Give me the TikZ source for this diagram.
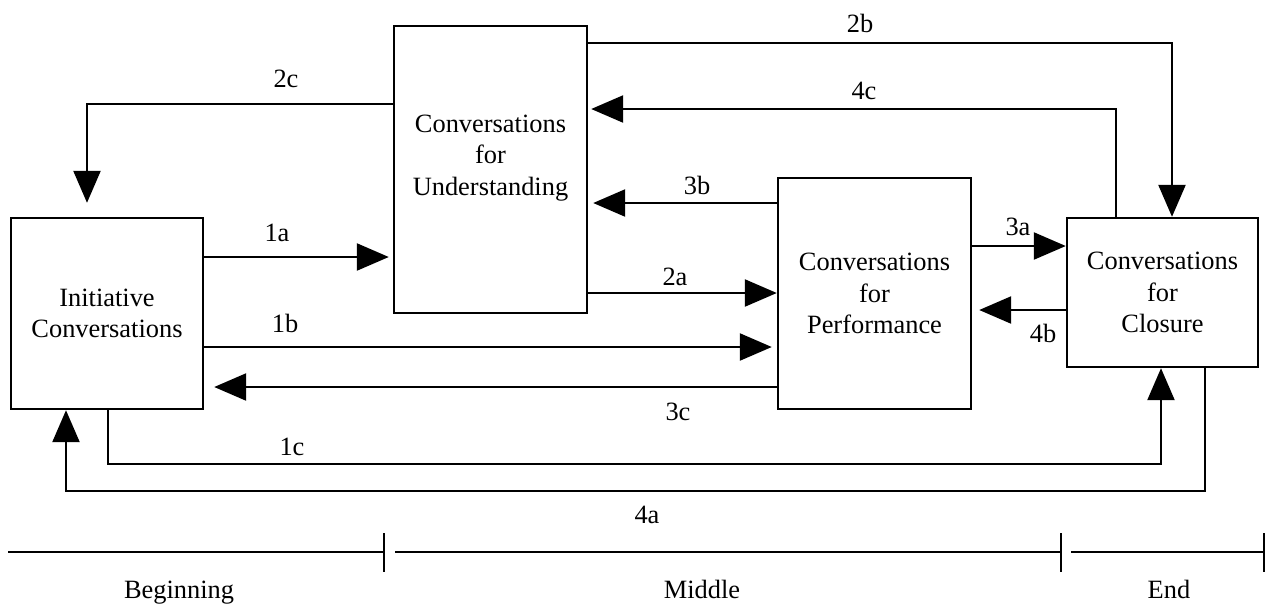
\documentclass[tikz,border=0pt]{standalone}
\usepackage{fontspec}
\setmainfont{Liberation Serif}
\usetikzlibrary{arrows.meta}
\begin{document}
\begin{tikzpicture}[x=0.5pt,y=-0.5pt,line width=1.2pt,
        >={Triangle[length=16pt,width=13.5pt]},
        font=\fontsize{13.2}{15.75}\selectfont]
        \useasboundingbox (0,0) rectangle (1266,607);
        \begin{scope}[every node/.style={draw,align=center,inner sep=0pt}]
            \node[minimum width=96pt,minimum height=95.5pt] (ini) at (107,313.5) {Initiative\\Conversations};
            \node[minimum width=96.5pt,minimum height=143.5pt,text depth=14.5pt] (und) at (490.5,169.5) {Conversations\\for\\Understanding};
            \node[minimum width=96.5pt,minimum height=115.5pt] (prf) at (874.5,293.5) {Conversations\\for\\Performance};
            \node[minimum width=95.5pt,minimum height=74.5pt] (cls) at (1162.5,292.5) {Conversations\\for\\Closure};
        \end{scope}
        \begin{scope}[every node/.style={inner sep=0pt}]
            \node (l1a) at (277,233) {1a};
            \node (l1b) at (285,323) {1b};
            \node (l1c) at (292,447) {1c};
            \node (l2a) at (675,277) {2a};
            \node (l2b) at (860,23) {2b};
            \node (l2c) at (286,79) {2c};
            \node (l3a) at (1018,227) {3a};
            \node (l3b) at (697,185) {3b};
            \node (l3c) at (678,412) {3c};
            \node (l4a) at (647,515) {4a};
            \node (l4b) at (1043,333) {4b};
            \node (l4c) at (864,91) {4c};
        \end{scope}
        \begin{scope}
            \path [->] (ini.east |- 0,257) edge[shorten >=2pt] (und.west |- 0,257);
            \path [->] (ini.east |- 0,347) edge[shorten >=2.5pt] (prf.west |- 0,347);
            \path [->] (und.east |- 0,293) edge (prf.west |- 0,293);
            \path [->] (prf.west |- 0,203) edge[shorten >=2.5pt] (und.east |- 0,203);
            \path [->] (prf.west |- 0,387) edge[shorten >=5pt] (ini.east |- 0,387);
            \path [->] (prf.east |- 0,246) edge (cls.west |- 0,246);
            \path [->] (cls.west |- 0,310) edge[shorten >=3.5pt] (prf.east |- 0,310);
            \draw [->] (und.east |- 0,43) -| (1172,0 |- cls.north);
            \draw [->,shorten >=1.5pt] (1116,0 |- cls.north) |- (und.east |- 0,109);
            \draw [->,shorten >=7pt] (und.west |- 0,104) -| (87,0 |- ini.north);
            \draw [->] (108,0 |- ini.south) -- (108,464) -| (1161,0 |- cls.south);
            \draw [->] (1205,0 |- cls.south) -- (1205,491) -| (66,0 |- ini.south);
        \end{scope}
        % time line
        \foreach \a/\b in {8/384, 395/1061, 1071/1264} {
            \draw (\a,552) -- (\b,552) (\b,533) -- (\b,572);
        }
        \begin{scope}[every node/.style={anchor=base}]
            \node (t1) at (179,598) {Beginning};
            \node (t2) at (702,598) {Middle};
            \node (t3) at (1169,598) {End};
        \end{scope}
    \end{tikzpicture}
\end{document}
